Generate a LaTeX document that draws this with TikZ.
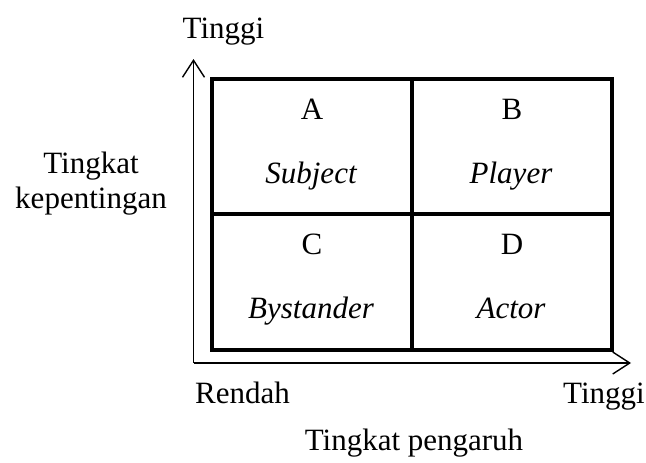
\documentclass[tikz,border=0pt]{standalone}
\usepackage{fontspec}
\setmainfont{Liberation Serif}
\usetikzlibrary{arrows.meta}
\begin{document}
\begin{tikzpicture}[x=1pt,y=-1pt,
  lbl/.style={font=\fontsize{31}{36}\selectfont, anchor=base, inner sep=0pt},
  ilbl/.style={lbl, font=\fontsize{31}{36}\selectfont\itshape},
  grid/.style={line width=4.5pt},
  axis/.style={line width=1.4pt, -{Straight Barb[length=17pt,width=22pt,line width=1.4pt]}}]
\useasboundingbox (0,0) rectangle (646,463);
% axes
\coordinate (O) at (193.5,363);
\coordinate (Ytop) at (193.5,59);
\coordinate (Xend) at (631,363);
\draw[axis] (O) -- (Ytop);
\draw[axis] (O) -- (Xend);
% grid
\coordinate (tl) at (212,79);
\coordinate (br) at (612,350);
\draw[grid] (tl) rectangle (br);
\coordinate (mt) at (412,79);
\coordinate (mb) at (412,350);
\coordinate (ml) at (212,214);
\coordinate (mr) at (612,214);
\draw[grid] (mt) -- (mb);
\draw[grid] (ml) -- (mr);
% cell labels
\node[lbl] (A) at (312,119) {A};
\node[ilbl] (Asub) at (311,183) {Subject};
\node[lbl] (B) at (512,119) {B};
\node[ilbl] (Bsub) at (511,183) {Player};
\node[lbl] (C) at (312,254) {C};
\node[ilbl] (Csub) at (311,318) {Bystander};
\node[lbl] (D) at (512,254) {D};
\node[ilbl] (Dsub) at (511,318) {Actor};
% axis labels
\node[lbl] (ytop) at (223.5,38) {Tinggi};
\node[lbl] (yl1) at (91,173) {Tingkat};
\node[lbl] (yl2) at (91,208) {kepentingan};
\node[lbl] (xl) at (242.5,403) {Rendah};
\node[lbl] (xr) at (604,403) {Tinggi};
\node[lbl] (xt) at (414,450) {Tingkat pengaruh};
\end{tikzpicture}
\end{document}
